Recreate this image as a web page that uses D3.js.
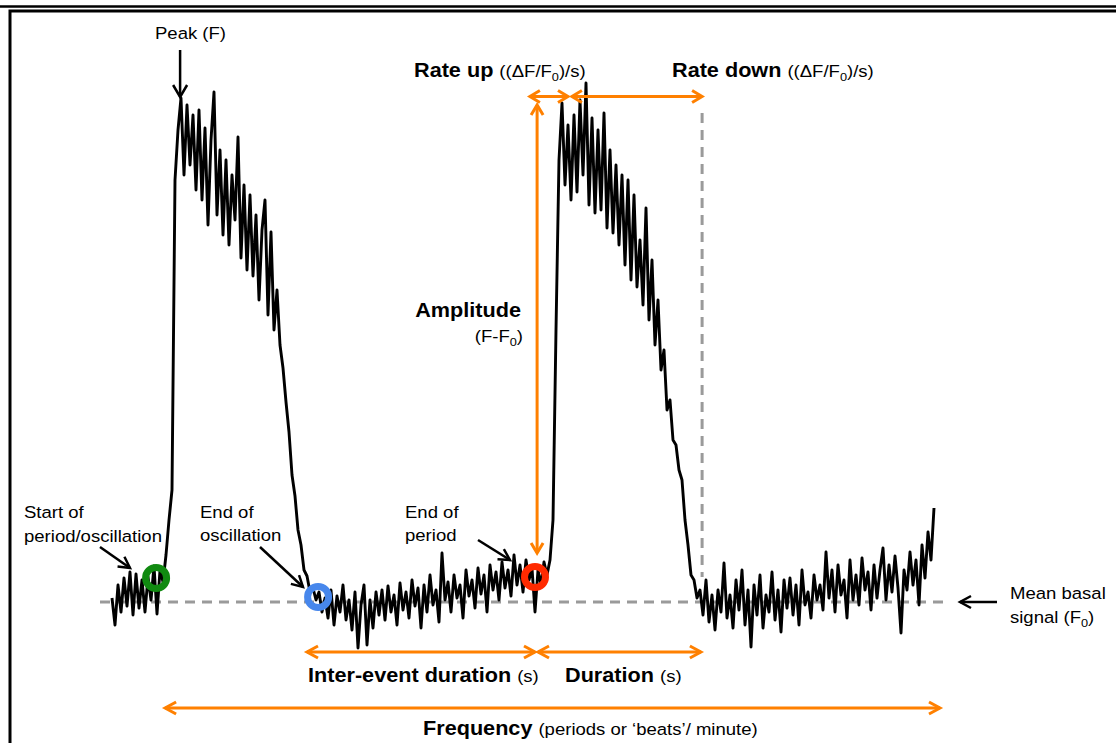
<!DOCTYPE html>
<html>
<head>
<meta charset="utf-8">
<script src="https://cdn.jsdelivr.net/npm/d3@7"></script>
<style>
	html, body { margin: 0; padding: 0; background: #fff; }
	svg { display: block; font-family: "Liberation Sans", Arial, sans-serif; }
</style>
</head>
<body>
<div id="chart"></div>
<script>
// Fluorescence trace (F/F0), one sample every 0.1 s
const sampleInterval = 0.1;
const signal = [
	1.008, 0.954, 1.034, 0.980, 1.048, 0.992, 1.060, 0.974, 1.056, 0.988,
	1.044, 0.980, 1.050, 1.004, 1.072, 0.976, 1.064, 1.040, 1.094, 1.164,
	1.224, 1.844, 1.944, 2.008, 1.854, 1.994, 1.874, 1.974, 1.824, 1.984,
	1.804, 1.948, 1.754, 1.924, 2.020, 1.774, 1.904, 1.734, 1.884, 1.714,
	1.854, 1.764, 1.930, 1.688, 1.834, 1.664, 1.814, 1.652, 1.774, 1.604,
	1.744, 1.804, 1.574, 1.740, 1.544, 1.624, 1.514, 1.468, 1.400, 1.340,
	1.254, 1.212, 1.144, 1.114, 1.064, 1.052, 1.020, 1.028, 1.004, 1.020,
	0.980, 1.008, 0.968, 1.024, 0.954, 1.012, 0.980, 1.034, 0.964, 1.004,
	0.944, 1.020, 0.908, 0.994, 1.034, 0.914, 1.004, 0.948, 1.020, 0.974,
	1.024, 0.964, 1.032, 0.980, 1.014, 0.954, 1.038, 0.984, 1.020, 0.968,
	1.044, 0.992, 1.028, 0.948, 1.034, 0.980, 1.054, 0.994, 1.024, 0.960,
	1.098, 1.004, 1.040, 0.980, 1.054, 1.008, 1.034, 0.968, 1.064, 1.012,
	1.044, 0.988, 1.068, 1.016, 1.054, 0.980, 1.074, 1.024, 1.060, 1.004,
	1.080, 1.028, 1.064, 1.012, 1.094, 1.034, 1.074, 1.020, 1.084, 1.044,
	1.068, 0.980, 1.064, 1.034, 1.080, 1.054, 1.084, 1.164, 1.544, 1.884,
	1.998, 1.834, 1.954, 1.804, 1.974, 1.820, 2.004, 1.854, 2.038, 1.794,
	1.968, 1.778, 1.944, 1.784, 1.978, 1.748, 1.904, 1.738, 1.874, 1.714,
	1.854, 1.674, 1.844, 1.644, 1.814, 1.630, 1.724, 1.594, 1.788, 1.564,
	1.684, 1.514, 1.604, 1.464, 1.504, 1.384, 1.404, 1.324, 1.314, 1.264,
	1.244, 1.164, 1.114, 1.054, 1.044, 1.008, 1.024, 0.974, 1.044, 0.960,
	1.014, 0.944, 1.024, 0.980, 1.078, 0.968, 1.014, 0.948, 1.044, 0.984,
	1.064, 0.954, 1.024, 0.910, 1.034, 0.974, 1.054, 0.948, 1.014, 0.980,
	1.060, 0.964, 1.024, 0.940, 1.044, 0.988, 1.048, 0.974, 1.034, 0.954,
	1.064, 0.994, 1.020, 0.968, 1.054, 1.004, 1.034, 0.984, 1.100, 1.008,
	1.064, 0.980, 1.074, 1.014, 1.044, 0.968, 1.084, 1.004, 1.054, 0.994,
	1.088, 1.024, 1.060, 0.984, 1.074, 1.008, 1.064, 1.108, 1.004, 1.074,
	1.020, 1.092, 1.028, 0.938, 1.064, 1.024, 1.100, 1.034, 1.084, 0.994,
	1.114, 1.048, 1.140, 1.084, 1.188
];

// mean basal signal F0
const basalLevel = 1.0;

// marked events: start of period, end of oscillation, end of period
const eventTimes = [1.47, 6.87, 14.10];
const eventLevels = [1.048, 1.010, 1.050];
const eventColors = ['#118a11', '#4787ec', '#ff2a00'];

// second event: peak time, rate-down end, level of the peak
const peakTime = 15.2;
const decayEndTime = 19.67;
const peakLevel = 2.011;

let width = 1116,
	height = 743,
	orange = '#ff8000',
	grey = '#9a9a9a',
	textScale = 1.11;

let svg = d3.select('#chart')
	.append('svg')
	.attr('width', width)
	.attr('height', height);

let times = signal.map((d, i) => i * sampleInterval);

//Scales
let xScale = d3.scaleLinear()
	.domain([0, times[times.length - 1]])
	.range([112, 934]);

let yScale = d3.scaleLinear()
	.domain([1, 2])
	.range([602, 102]);

//Frame
svg.append('line')
	.attr('x1', 0).attr('x2', width)
	.attr('y1', 6.5).attr('y2', 6.5)
	.attr('stroke', '#000').attr('stroke-width', 2.5);
svg.append('path')
	.attr('d', 'M10,' + height + 'V11H' + width)
	.attr('fill', 'none')
	.attr('stroke', '#000')
	.attr('stroke-width', 3);

//Dashed guides
svg.append('line')
	.attr('x1', xScale(-0.4)).attr('x2', xScale(27.83))
	.attr('y1', yScale(basalLevel)).attr('y2', yScale(basalLevel))
	.attr('stroke', grey).attr('stroke-width', 3)
	.attr('stroke-dasharray', '10,7');
svg.append('line')
	.attr('x1', xScale(decayEndTime)).attr('x2', xScale(decayEndTime))
	.attr('y1', yScale(1.978)).attr('y2', yScale(1.05))
	.attr('stroke', grey).attr('stroke-width', 3)
	.attr('stroke-dasharray', '10,7');

//Trace
let line = d3.line()
	.x((d, i) => xScale(times[i]))
	.y((d) => yScale(d));

svg.append('path')
	.datum(signal)
	.attr('d', line)
	.attr('fill', 'none')
	.attr('stroke', '#000')
	.attr('stroke-width', 2.9)
	.attr('stroke-linejoin', 'round');

//Arrow helper: chevron heads at the end (and start if both)
let arrow = (x1, y1, x2, y2, color, strokeW, len, half, both) => {
	let g = svg.append('g')
		.attr('stroke', color)
		.attr('stroke-width', strokeW)
		.attr('fill', 'none');
	g.append('line')
		.attr('x1', x1).attr('y1', y1)
		.attr('x2', x2).attr('y2', y2);
	let head = (xa, ya, xb, yb) => {
		let a = Math.atan2(ya - yb, xa - xb);
		let bx = xa - len * Math.cos(a), by = ya - len * Math.sin(a);
		let p1 = [bx + half * Math.sin(a), by - half * Math.cos(a)];
		let p2 = [bx - half * Math.sin(a), by + half * Math.cos(a)];
		g.append('path').attr('d', 'M' + p1 + 'L' + xa + ',' + ya + 'L' + p2);
	};
	head(x2, y2, x1, y1);
	if (both) head(x1, y1, x2, y2);
};

//Orange measurement arrows
let rateY = yScale(peakLevel);
arrow(xScale(13.93), rateY, xScale(peakTime), rateY, orange, 3, 10, 6, true);
arrow(xScale(15.33), rateY, xScale(decayEndTime), rateY, orange, 3, 10, 6, true);
arrow(xScale(14.17), yScale(1.994), xScale(14.17), yScale(1.098), orange, 3, 10, 6, true);
arrow(xScale(6.5), yScale(0.9), xScale(eventTimes[2]), yScale(0.9), orange, 3, 11, 6, true);
arrow(xScale(14.2), yScale(0.9), xScale(19.63), yScale(0.9), orange, 3, 11, 6, true);
arrow(xScale(1.77), yScale(0.788), xScale(27.6), yScale(0.788), orange, 3, 11, 6, true);

//Black pointer arrows
arrow(xScale(2.27), 50, xScale(2.27), yScale(2.01), '#000', 2.5, 12, 7, false);
arrow(100, 547, 130, 568, '#000', 2.5, 11, 6, false);
arrow(260, 547, 303, 587, '#000', 2.5, 11, 6, false);
arrow(478, 540, 510, 560, '#000', 2.5, 11, 6, false);
arrow(997, yScale(basalLevel), 960, yScale(basalLevel), '#000', 2.5, 11, 6, false);

//Event rings
svg.selectAll('circle.event')
	.data(eventTimes)
	.enter()
	.append('circle')
	.attr('class', 'event')
	.attr('cx', (d) => xScale(d))
	.attr('cy', (d, i) => yScale(eventLevels[i]))
	.attr('r', 10.5)
	.attr('fill', 'none')
	.attr('stroke', (d, i) => eventColors[i])
	.attr('stroke-width', 7);

//Text helper, parts: {text, bold, sub}
let label = (x, y, parts, anchor) => {
	let t = svg.append('text')
		.attr('transform', 'translate(' + x + ',' + y + ') scale(' + textScale + ',1)')
		.attr('text-anchor', anchor || 'start')
		.attr('fill', '#000');
	let shifted = false;
	parts.forEach((p) => {
		let s = t.append('tspan')
			.text(p.text)
			.attr('font-size', p.bold ? 19.5 : (p.sub ? 11.5 : 16.7))
			.attr('font-weight', p.bold ? 'bold' : 'normal');
		if (p.sub) { s.attr('dy', 4); shifted = true; }
		else if (shifted) { s.attr('dy', -4); shifted = false; }
	});
};

let rateUnit = [{ text: '((ΔF/F' }, { text: '0', sub: true }, { text: ')/s)' }];

label(155, 39, [{ text: 'Peak (F)' }]);
label(414, 77, [{ text: 'Rate up ', bold: true }].concat(rateUnit));
label(672, 77, [{ text: 'Rate down ', bold: true }].concat(rateUnit));
label(521, 317, [{ text: 'Amplitude', bold: true }], 'end');
label(523, 342, [{ text: '(F-F' }, { text: '0', sub: true }, { text: ')' }], 'end');
label(24, 518, [{ text: 'Start of' }]);
label(24, 542, [{ text: 'period/oscillation' }]);
label(200, 518, [{ text: 'End of' }]);
label(200, 541, [{ text: 'oscillation' }]);
label(405, 518, [{ text: 'End of' }]);
label(405, 541, [{ text: 'period' }]);
label(1010, 599, [{ text: 'Mean basal' }]);
label(1010, 623, [{ text: 'signal (F' }, { text: '0', sub: true }, { text: ')' }]);
label(308, 682, [{ text: 'Inter-event duration ', bold: true }, { text: '(s)' }]);
label(565, 682, [{ text: 'Duration ', bold: true }, { text: '(s)' }]);
label(423, 735, [{ text: 'Frequency ', bold: true }, { text: '(periods or ‘beats’/ minute)' }]);
</script>
</body>
</html>
